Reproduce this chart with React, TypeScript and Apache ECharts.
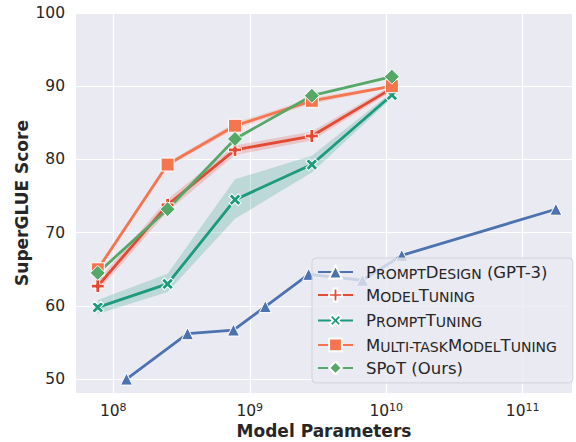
import React, { useEffect, useRef } from "react";
import * as echarts from "echarts";

// ---- data ----
const gpt3Params = [1.25e8, 3.5e8, 7.6e8, 1.3e9, 2.7e9, 6.7e9, 1.3e10, 1.75e11];
const promptDesign = [50.0, 56.2, 56.7, 59.9, 64.3, 63.5, 66.9, 73.2];

const t5Params = [7.7e7, 2.5e8, 7.8e8, 2.85e9, 1.1e10];
const modelTuning = [62.7, 73.8, 81.3, 83.2, 89.7];
const modelTuningLow = [62.0, 72.9, 80.6, 82.6, 89.3];
const modelTuningHigh = [63.4, 74.6, 81.9, 83.8, 90.1];

const promptTuning = [59.8, 63.0, 74.5, 79.3, 88.8];
const promptTuningLow = [58.9, 61.9, 71.9, 78.2, 88.4];
const promptTuningHigh = [60.8, 64.4, 77.3, 80.5, 89.2];

const multiTask = [65.0, 79.3, 84.6, 88.0, 90.0];
const multiTaskLow = [64.7, 79.0, 84.2, 87.6, 89.8];
const multiTaskHigh = [65.3, 79.6, 85.0, 88.4, 90.2];

const spot = [64.5, 73.2, 82.8, 88.7, 91.3];

const xTickParams = [1e8, 1e9, 1e10, 1e11];
const yTicks = [50, 60, 70, 80, 90, 100];

const seriesNames = [
  "PromptDesign (GPT-3)",
  "ModelTuning",
  "PromptTuning",
  "Multi-taskModelTuning",
  "SPoT (Ours)",
];
const legendRich = [
  "{c|P}{s|ROMPT}{c|D}{s|ESIGN}{c| (GPT-3)}",
  "{c|M}{s|ODEL}{c|T}{s|UNING}",
  "{c|P}{s|ROMPT}{c|T}{s|UNING}",
  "{c|M}{s|ULTI-TASK}{c|M}{s|ODEL}{c|T}{s|UNING}",
  "{c|SPoT (Ours)}",
];

const colors = {
  blue: "#4c72b0",
  red: "#e34a33",
  teal: "#1c9a7d",
  orange: "#f4754f",
  green: "#55a868",
};

const FONT = "DejaVu Sans";
const TEXT = "#262626";
const PLUS =
  "path://M4.25,0H7.75V4.25H12V7.75H7.75V12H4.25V7.75H0V4.25H4.25Z";

const lg = (v: number) => Math.log10(v);
const pts = (xs: number[], ys: number[]) => xs.map((x, i) => [lg(x), ys[i]]);

function band(xs: number[], lo: number[], hi: number[], color: string) {
  return {
    type: "custom",
    silent: true,
    z: 1,
    data: [0],
    renderItem: (_p: any, api: any) => {
      const upper = xs.map((x, i) => api.coord([lg(x), hi[i]]));
      const lower = xs.map((x, i) => api.coord([lg(x), lo[i]])).reverse();
      return {
        type: "polygon",
        shape: { points: upper.concat(lower) },
        style: { fill: color, opacity: 0.22 },
      };
    },
  };
}

function line(
  name: string,
  xs: number[],
  ys: number[],
  color: string,
  symbol: string,
  size: number | number[],
  rotate = 0
) {
  return {
    type: "line",
    name,
    z: 3,
    data: pts(xs, ys),
    symbol,
    symbolSize: size,
    symbolRotate: rotate,
    showAllSymbol: true,
    lineStyle: { color, width: 2.8 },
    itemStyle: { color, borderColor: "#ffffff", borderWidth: 1 },
    emphasis: { disabled: true },
  };
}

export default function App() {
  const ref = useRef<HTMLDivElement>(null);
  useEffect(() => {
    document.body.style.margin = "0";
    const chart = echarts.init(ref.current!, undefined, { renderer: "svg" });
    chart.setOption({
      animation: false,
      textStyle: { fontFamily: FONT },
      grid: {
        left: 76,
        top: 13,
        right: 4,
        bottom: 49,
        show: true,
        containLabel: false,
        outerBoundsMode: "none",
        backgroundColor: "#eaeaf2",
        borderWidth: 0,
      },
      xAxis: {
        type: "value",
        min: 7.727,
        max: 11.361,
        name: "Model Parameters",
        nameLocation: "middle",
        nameGap: 29,
        nameMoveOverlap: false,
        nameTextStyle: { fontSize: 17, fontWeight: "bold", color: TEXT, fontFamily: FONT },
        axisLine: { show: false },
        axisTick: { show: false, customValues: xTickParams.map(lg) },
        splitLine: { show: true, lineStyle: { color: "#ffffff", width: 1.2 } },
        axisLabel: {
          customValues: xTickParams.map(lg),
          margin: 9,
          color: TEXT,
          formatter: (v: number) => `{b|10}{s|${Math.round(v)}}`,
          rich: {
            b: { fontSize: 15.5, fontFamily: FONT, color: TEXT, lineHeight: 17, verticalAlign: "bottom" },
            s: { fontSize: 11, fontFamily: FONT, color: TEXT, lineHeight: 11, verticalAlign: "top" },
          },
        },
      },
      yAxis: {
        type: "value",
        min: 48.1,
        max: 100,
        name: "SuperGLUE Score",
        nameLocation: "middle",
        nameGap: 46,
        nameMoveOverlap: false,
        nameTextStyle: { fontSize: 17, fontWeight: "bold", color: TEXT, fontFamily: FONT },
        axisLine: { show: false },
        axisTick: { show: false, customValues: yTicks },
        splitLine: { show: true, lineStyle: { color: "#ffffff", width: 1.2 } },
        axisLabel: {
          customValues: yTicks,
          margin: 11,
          fontSize: 15.5,
          color: TEXT,
          fontFamily: FONT,
        },
      },
      legend: {
        data: seriesNames,
        orient: "vertical",
        left: 312,
        top: 258,
        itemWidth: 35,
        itemHeight: 16,
        itemGap: 6,
        padding: [6, 16, 6, 5],
        backgroundColor: "rgba(234,234,242,0.8)",
        borderColor: "#d2d2da",
        borderWidth: 1,
        borderRadius: 4,
        formatter: (name: string) => legendRich[seriesNames.indexOf(name)],
        textStyle: {
          color: TEXT,
          fontFamily: FONT,
          fontSize: 16.5,
          padding: [0, 0, 0, 8],
          rich: {
            c: { fontSize: 16.5, fontFamily: FONT, color: TEXT, lineHeight: 18, verticalAlign: "bottom" },
            s: { fontSize: 14, fontFamily: FONT, color: TEXT, lineHeight: 15.3, verticalAlign: "bottom" },
          },
        },
      },
      series: [
        band(t5Params, modelTuningLow, modelTuningHigh, colors.red),
        band(t5Params, promptTuningLow, promptTuningHigh, colors.teal),
        band(t5Params, multiTaskLow, multiTaskHigh, colors.orange),
        line(seriesNames[0], gpt3Params, promptDesign, colors.blue, "triangle", 12),
        line(seriesNames[1], t5Params, modelTuning, colors.red, PLUS, 13),
        line(seriesNames[2], t5Params, promptTuning, colors.teal, PLUS, 13, 45),
        line(seriesNames[3], t5Params, multiTask, colors.orange, "rect", 13),
        line(seriesNames[4], t5Params, spot, colors.green, "diamond", 15),
      ],
    });
    return () => chart.dispose();
  }, []);
  return (
    <div
      ref={ref}
      style={{ position: "absolute", left: 0, top: 0, width: 576, height: 442 }}
    />
  );
}
